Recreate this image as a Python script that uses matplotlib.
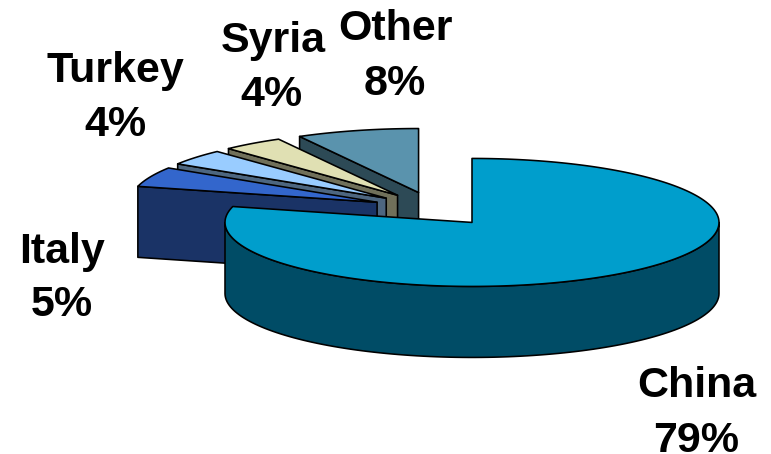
import numpy as np
import matplotlib
matplotlib.use("Agg")
import matplotlib.pyplot as plt
from matplotlib.patches import Polygon

categories = ["China", "Italy", "Turkey", "Syria", "Other"]
shares = [79, 5, 4, 4, 8]
top_colors = ["#009ECC", "#3366CC", "#99CCFF", "#E0E0B3", "#5A93AD"]
side_colors = ["#004C66", "#1A3366", "#4D6680", "#70705A", "#2D4A56"]

# label baselines (px)
name_pos = [(696.5, 397), (62, 263), (115, 82), (273, 52), (396, 40)]
pct_pos = [(696, 452), (62, 316), (115.5, 136), (271, 106), (395, 95)]

CX, CY = 434, 209      # pie centre (px)
RX, RY = 247, 64       # ellipse radii (px)
EX, EY = 62, 17        # explosion offsets (px)
DEPTH = 71             # pie height (px)
EDGE = dict(edgecolor="black", linewidth=1.15, joinstyle="round")

plt.rcParams["font.family"] = ["Liberation Sans", "DejaVu Sans"]
fig = plt.figure(figsize=(7.71, 4.54), dpi=100)
ax = fig.add_axes([0, 0, 1, 1])
ax.set_xlim(0, 771)
ax.set_ylim(454, 0)
ax.axis("off")


def rim(c, a):
    a = np.radians(a)
    return np.column_stack([c[0] + RX * np.cos(a), c[1] - RY * np.sin(a)])


angles = 90 - np.concatenate([[0], np.cumsum(shares)]) * 3.6
down = np.array([0, DEPTH])
zorder = 1
for i in range(len(shares) - 1, -1, -1):
    a0, a1 = angles[i], angles[i + 1]      # a0 > a1, clockwise
    mid = np.radians((a0 + a1) / 2)
    c = np.array([CX + EX * np.cos(mid), CY - EY * np.sin(mid)])

    # radial wall on the leading edge, when it faces the viewer
    if np.cos(np.radians(a0)) < -1e-9:
        p = rim(c, np.array([a0]))[0]
        ax.add_patch(Polygon([c, p, p + down, c + down], closed=True,
                             facecolor=side_colors[i], zorder=zorder, **EDGE))
    # outer wall on the front half of the arc
    lo, hi = max(a1, -180), min(a0, 0)
    if lo < hi:
        arc = rim(c, np.linspace(lo, hi, 120))
        ax.add_patch(Polygon(np.vstack([arc, (arc + down)[::-1]]), closed=True,
                             facecolor=side_colors[i], zorder=zorder, **EDGE))
    # top face
    arc = rim(c, np.linspace(a0, a1, 240))
    ax.add_patch(Polygon(np.vstack([c, arc]), closed=True,
                         facecolor=top_colors[i], zorder=zorder + 0.5, **EDGE))
    zorder += 1

for name, share, np_, pp in zip(categories, shares, name_pos, pct_pos):
    ax.text(*np_, name, fontsize=31, fontweight="bold", ha="center", va="baseline", color="black", zorder=20)
    ax.text(*pp, f"{share}%", fontsize=31, fontweight="bold", ha="center", va="baseline", color="black", zorder=20)

fig.savefig("out.png", dpi=100)
